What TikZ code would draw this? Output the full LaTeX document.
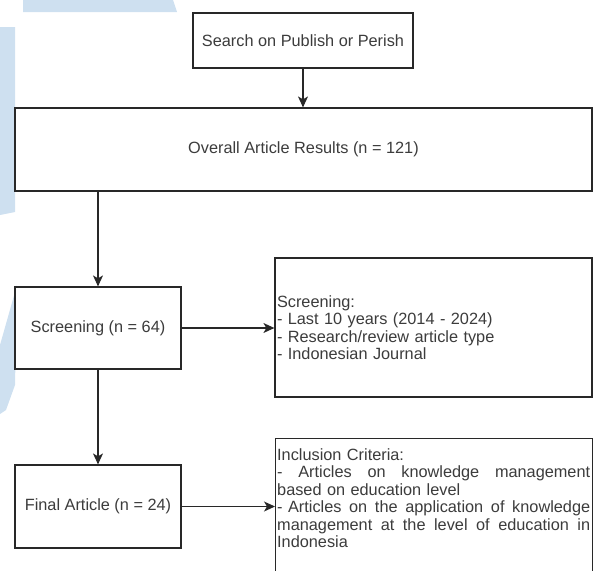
\documentclass[tikz,border=0pt]{standalone}
\usepackage{fontspec}
\setmainfont{Liberation Sans}
\usetikzlibrary{arrows.meta}
\definecolor{wm}{RGB}{206,224,240}
\definecolor{ln}{RGB}{40,40,40}
\definecolor{tx}{RGB}{60,60,60}
\newcommand{\jline}[1]{\leavevmode\hbox to 313pt{#1}}
\begin{document}
\begin{tikzpicture}[x=1pt,y=-1pt,
  box/.style={draw=ln, line width=1.2pt, rectangle, inner sep=0pt, text=tx,
    font=\fontsize{16.3}{17.5}\selectfont},
  txt/.style={inner sep=0pt, text=tx, font=\fontsize{16.3}{17.5}\selectfont},
  arr/.style={draw=ln, line width=1.2pt, -{Stealth[length=11pt,width=10pt,inset=3pt]}}]
\useasboundingbox (0,0) rectangle (598,571);
\clip (0,0) rectangle (598,571);
% watermark shapes
\fill[wm] (23,0) -- (173,0) -- (177,12) -- (23,12) -- cycle;
\fill[wm] (0,27) -- (15,27) -- (15,212) -- (0,215) -- cycle;
\fill[wm] (17,285) -- (15,385) -- (6,410) -- (0,414) -- (0,345) -- cycle;
% boxes
\node[box, fill=white, minimum width=220, minimum height=55] (search) at (303,40.5) {Search on Publish or Perish};
\node[box, fill=white, minimum width=577, minimum height=83] (overall) at (303.5,149.5) {Overall Article Results (n = 121)};
\node[box, fill=white, minimum width=166, minimum height=82] (scr) at (98,328) {Screening (n = 64)};
\node[box, fill=white, minimum width=166, minimum height=83] (final) at (98,506.5) {Final Article (n = 24)};
\node[box, fill=white, text width=313, inner xsep=2pt, minimum height=139, align=left] (crit) at (433.5,327.5)
  {Screening:\\- Last 10 years (2014 - 2024)\\- Research/review article type\\- Indonesian Journal};
\node[box, fill=white, anchor=north west, minimum width=317, minimum height=150] (incl) at (275,438) {};
\node[txt, anchor=north west, text width=313, align=left] (incltext) at (277,448)
  {Inclusion Criteria:\\
   \jline{-\hfill Articles\hfill on\hfill knowledge\hfill management}\\
   based on education level\\
   \jline{- Articles\hfill on\hfill the\hfill application\hfill of\hfill knowledge}\\
   \jline{management\hfill at\hfill the\hfill level\hfill of\hfill education\hfill in}\\
   Indonesia};
% connectors
\draw[arr] (search.south) -- (search.south |- overall.north);
\draw[arr] (overall.south -| scr.north) -- (scr.north);
\draw[arr] (scr.south) -- (final.north);
\draw[arr] (scr.east) -- (scr.east -| crit.west);
\draw[arr] (final.east) -- (final.east -| incl.west);
\end{tikzpicture}
\end{document}
